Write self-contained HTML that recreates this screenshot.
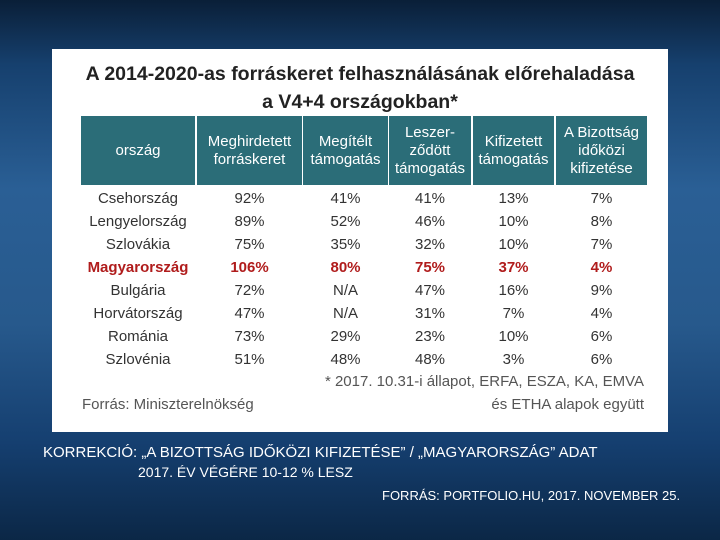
<!DOCTYPE html>
<html><head><meta charset="utf-8"><style>
body{margin:0;width:720px;height:540px;overflow:hidden;font-family:"Liberation Sans",sans-serif;
background:linear-gradient(180deg,#0a1f38 0%,#16406e 12%,#2a5f95 35%,#27598c 60%,#153f70 82%,#0b2746 100%);position:relative}
#panel{position:absolute;left:52px;top:49px;width:616px;height:383px;background:#fff}
#title{position:absolute;left:0;width:616px;top:11px;text-align:center;font-weight:bold;font-size:19.5px;line-height:28px;color:#222}
.h{position:absolute;top:116px;height:69px;background:#2b6d78;color:#fff;font-size:15px;display:flex;align-items:center;justify-content:center;text-align:center;line-height:18px}
.c{position:absolute;font-size:15px;color:#333;text-align:center;transform:translateX(-50%);white-space:nowrap}
.red{color:#b01c1c;font-weight:bold}
.note{position:absolute;font-size:15px;color:#555;white-space:nowrap}
.k{position:absolute;color:#fff;font-size:13px;white-space:nowrap}
</style></head><body>
<div id="panel">
<div id="title">A 2014-2020-as forráskeret felhasználásának előrehaladása<br>a V4+4 országokban*</div>
</div>
<div id="tbl"></div>
<div class="note" style="right:76px;top:373px">* 2017. 10.31-i állapot, ERFA, ESZA, KA, EMVA</div>
<div class="note" style="left:82px;top:396px">Forrás: Miniszterelnökség</div>
<div class="note" style="right:76px;top:396px">és ETHA alapok együtt</div>
<div class="k" style="left:43px;top:444px;font-size:15px">KORREKCIÓ: „A BIZOTTSÁG IDŐKÖZI KIFIZETÉSE” / „MAGYARORSZÁG” ADAT</div>
<div class="k" style="left:138px;top:464px;font-size:14px">2017. ÉV  VÉGÉRE 10-12 % LESZ</div>
<div class="k" style="left:382px;top:488px">FORRÁS: PORTFOLIO.HU, 2017. NOVEMBER 25.</div>
<script>
const headers=["ország","Meghirdetett<br>forráskeret","Megítélt<br>támogatás","Leszer-<br>ződött<br>támogatás","Kifizetett<br>támogatás","A Bizottság<br>időközi<br>kifizetése"];
const countries=["Csehország","Lengyelország","Szlovákia","Magyarország","Bulgária","Horvátország","Románia","Szlovénia"];
const announced=["92%","89%","75%","106%","72%","47%","73%","51%"];
const awarded=["41%","52%","35%","80%","N/A","N/A","29%","48%"];
const contracted=["41%","46%","32%","75%","47%","31%","23%","48%"];
const paid=["13%","10%","10%","37%","16%","7%","10%","3%"];
const commission=["7%","8%","7%","4%","9%","4%","6%","6%"];
const colL=[81,197,303,389,473,556],colR=[195,302,388,471,554,647];
const t=document.getElementById('tbl');
headers.forEach((h,i)=>{const d=document.createElement('div');d.className='h';


d.style.left=colL[i]+'px';d.style.width=(colR[i]-colL[i])+'px';d.innerHTML=h;t.appendChild(d);});
const cols=[countries,announced,awarded,contracted,paid,commission];
countries.forEach((c,r)=>{cols.forEach((arr,i)=>{const d=document.createElement('div');
d.className='c'+(r===3?' red':'');


d.style.left=((colL[i]+colR[i])/2)+'px';d.style.top=(190+r*23)+'px';d.textContent=arr[r];t.appendChild(d);});});
</script>
</body></html>
